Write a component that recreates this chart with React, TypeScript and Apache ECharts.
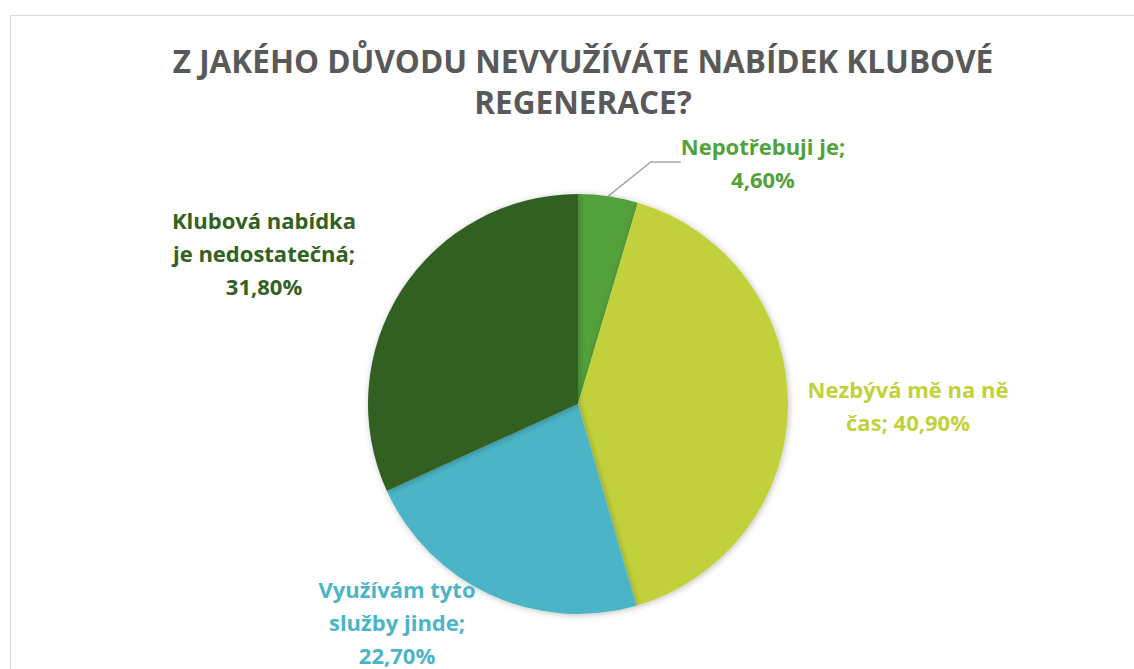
import React, { useEffect, useRef } from "react";
import * as echarts from "echarts";

const titleText = "Z JAKÉHO DŮVODU NEVYUŽÍVÁTE NABÍDEK KLUBOVÉ\nREGENERACE?";
const categories = [
  "Nepotřebuji je",
  "Nezbývá mě na ně\nčas",
  "Využívám tyto\nslužby jinde",
  "Klubová nabídka\nje nedostatečná",
];
const values = [4.6, 40.9, 22.7, 31.8];
const colors = ["#52a13a", "#c2d13b", "#4bb5c7", "#326123"];
const percentOnNewLine = [true, false, true, true];

const labelPos = [
  { x: 763, y: 162 },
  { x: 908, y: 405 },
  { x: 397, y: 622 },
  { x: 264, y: 253 },
];

export default function App() {
  const ref = useRef<HTMLDivElement>(null);
  useEffect(() => {
    document.body.style.margin = "0";
    const chart = echarts.init(ref.current!, null, { renderer: "svg" });
    chart.setOption({
      animation: false,
      backgroundColor: "#ffffff",
      title: {
        text: titleText,
        left: 578,
        top: 35,
        textAlign: "center",
        textStyle: {
          fontFamily: "Open Sans",
          fontWeight: "bold",
          fontSize: 31.5,
          color: "#595959",
          lineHeight: 41,
        },
      },
      graphic: [
        {
          type: "rect",
          shape: { x: 10.5, y: 15.5, width: 1130, height: 660 },
          style: { fill: "none", stroke: "#d9d9d9", lineWidth: 1 },
          silent: true,
        },
      ],
      series: [
        {
          type: "pie",
          center: [578, 404],
          radius: 210,
          startAngle: 90,
          clockwise: true,
          data: categories.map((name, i) => ({
            name,
            value: values[i],
            itemStyle: { color: colors[i] },
            label: { color: colors[i] },
            labelLine: { show: i === 0 },
          })),
          itemStyle: {
            shadowBlur: 6,
            shadowColor: "rgba(0,0,0,0.25)",
            shadowOffsetX: 1,
            shadowOffsetY: 1,
          },
          label: {
            show: true,
            position: "outside",
            fontFamily: "Open Sans",
            fontWeight: "bold",
            fontSize: 22,
            lineHeight: 33,
            align: "center",
            formatter: (p: any) =>
              p.name +
              ";" +
              (percentOnNewLine[p.dataIndex] ? "\n" : " ") +
              values[p.dataIndex].toFixed(2).replace(".", ",") +
              "%",
          },
          labelLine: {
            lineStyle: { color: "#a6a6a6", width: 1.5 },
          },
          labelLayout: (params: any) => {
            const pos = labelPos[params.dataIndex];
            return {
              x: pos.x,
              y: pos.y,
              align: "center",
              verticalAlign: "middle",
            };
          },
        },
      ],
    });
    return () => chart.dispose();
  }, []);
  return <div ref={ref} style={{ width: 1134, height: 669 }} />;
}
